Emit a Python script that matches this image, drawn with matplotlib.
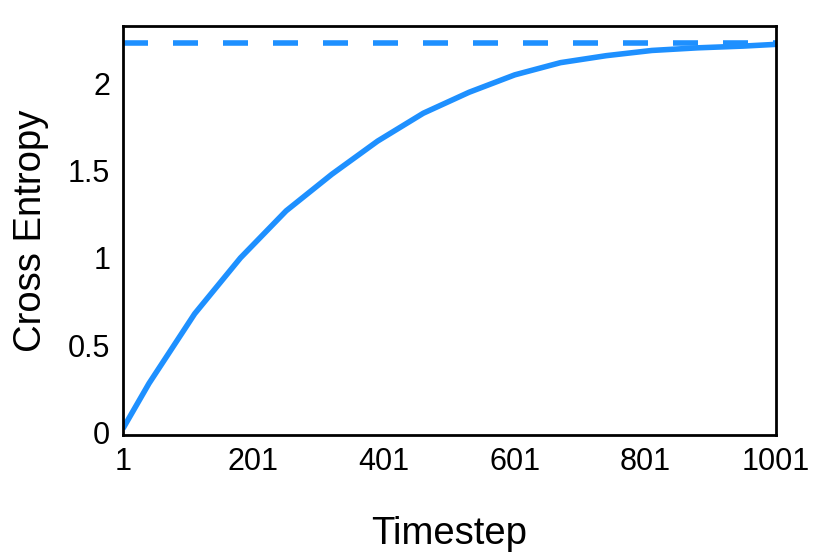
import matplotlib.pyplot as plt
import numpy as np

plt.rcParams['font.family'] = ['Liberation Sans', 'DejaVu Sans']

timesteps = [1, 41, 111, 181, 251, 321, 391, 461, 531, 601, 671, 741, 811, 881, 951, 1001]
cross_entropy = [0.02, 0.28, 0.68, 1.00, 1.27, 1.48, 1.67, 1.83, 1.95, 2.05, 2.12, 2.16, 2.19, 2.205, 2.215, 2.225]
uniform_level = 2.23
xticks = [1, 201, 401, 601, 801, 1001]
yticks = [0, 0.5, 1, 1.5, 2]
ytick_labels = ["0", "0.5", "1", "1.5", "2"]

blue = "#1E90FF"

fig = plt.figure(figsize=(8.3, 5.54), dpi=100)
ax = fig.add_axes([0.148, 0.215, 0.787, 0.738])

ax.plot(timesteps, cross_entropy, color=blue, lw=4, solid_capstyle='butt')
ax.axhline(uniform_level, color=blue, lw=4, dashes=(4.5, 4.5))

ax.set_xlim(1, 1001)
ax.set_ylim(-0.015, 2.33)
ax.set_xticks(xticks)
ax.set_xticklabels([str(t) for t in xticks])
ax.set_yticks(yticks)
ax.set_yticklabels(ytick_labels)
ax.tick_params(length=0, labelsize=22, pad=9)

for s in ax.spines.values():
    s.set_linewidth(2)

ax.set_xlabel("Timestep", fontsize=27.5, labelpad=28)
ax.set_ylabel("Cross Entropy", fontsize=27.5, labelpad=14)

fig.savefig("out.png", dpi=100)
